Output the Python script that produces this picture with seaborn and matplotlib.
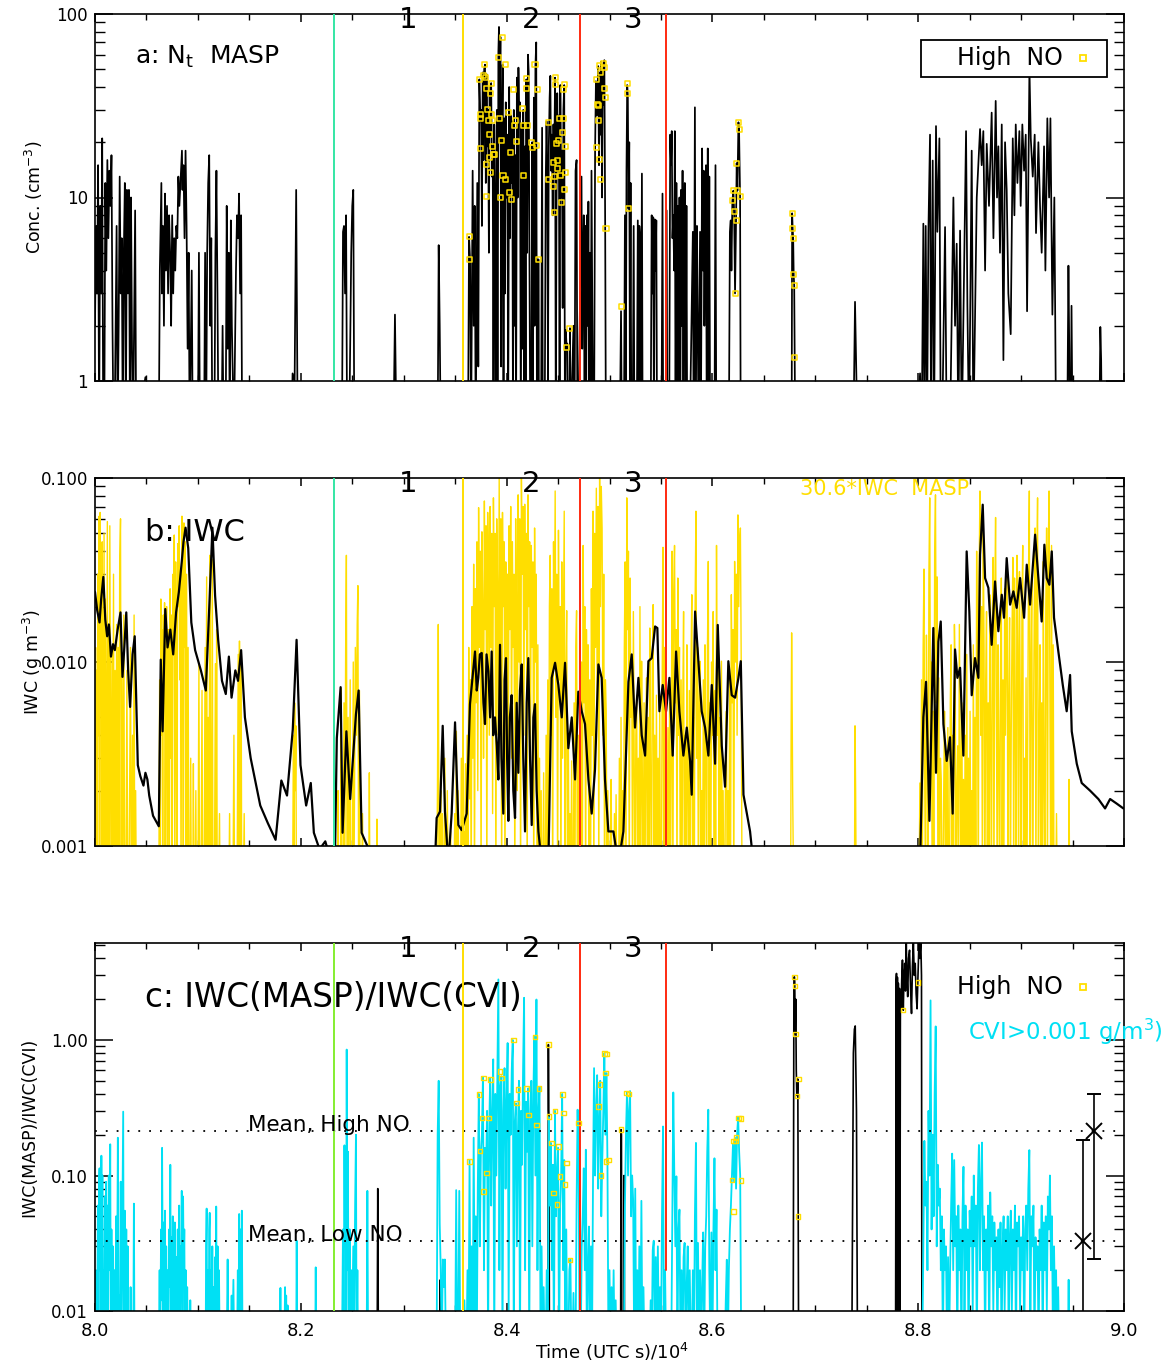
import numpy as np
import pandas as pd
import matplotlib
matplotlib.use("Agg")
import matplotlib.pyplot as plt
import matplotlib.transforms as mtransforms
from matplotlib.ticker import MultipleLocator, LogLocator, NullFormatter, FuncFormatter, FixedLocator
import seaborn as sns

# ------------------------------------------------------------------ data
# time axis in (UTC s)/1e4
REGION_LINES = [8.232, 8.358, 8.4713, 8.555]
REGION_LABELS = ["1", "2", "3"]
REGION_LABEL_T = [8.304, 8.424, 8.523]

# Panel a: N_t MASP (cm^-3); values below 1 fall off the axis
NT_MASP = [
    (8.000, 2.0), (8.001, 7), (8.002, 3), (8.003, 15), (8.004, 0.5), (8.005, 9), (8.006, 3), (8.007, 21),
    (8.008, 0.5), (8.009, 0.5), (8.010, 12), (8.011, 4), (8.012, 16), (8.013, 6), (8.014, 14), (8.015, 9),
    (8.016, 17), (8.017, 2), (8.018, 0.5), (8.019, 0.5), (8.021, 7), (8.022, 0.5), (8.023, 2), (8.024, 13),
    (8.025, 3), (8.026, 6), (8.027, 0.5), (8.028, 5), (8.029, 12), (8.030, 0.5), (8.031, 11), (8.032, 3),
    (8.033, 11), (8.034, 0.5), (8.035, 10), (8.036, 1.5), (8.037, 0.5), (8.039, 8.5), (8.040, 0.5), (8.049, 1.05),
    (8.050, 0.5),
    (8.062, 0.5), (8.063, 4), (8.0645, 12), (8.065, 3), (8.066, 7), (8.067, 2), (8.068, 10.5), (8.069, 4),
    (8.070, 9), (8.071, 3), (8.072, 8), (8.073, 5), (8.074, 2), (8.075, 8), (8.076, 3), (8.077, 6),
    (8.078, 4), (8.079, 7), (8.080, 6), (8.081, 13), (8.082, 9), (8.0845, 18), (8.085, 11), (8.086, 15),
    (8.087, 6), (8.088, 18), (8.089, 7), (8.090, 1.5), (8.091, 5), (8.092, 0.5), (8.094, 4), (8.095, 0.5),
    (8.100, 0.5), (8.101, 5), (8.102, 0.5),
    (8.106, 0.5), (8.107, 5), (8.108, 0.5), (8.109, 5), (8.110, 12), (8.111, 17), (8.112, 2), (8.113, 6),
    (8.114, 0.5), (8.116, 0.5), (8.117, 5), (8.118, 14), (8.119, 3), (8.120, 0.5), (8.123, 0.5), (8.124, 2),
    (8.125, 0.5), (8.127, 0.5), (8.128, 9), (8.129, 1.5), (8.130, 5), (8.131, 0.5), (8.132, 7.5), (8.133, 2),
    (8.135, 0.5), (8.137, 4), (8.138, 8), (8.139, 6), (8.140, 10.5), (8.141, 3), (8.142, 8), (8.143, 0.5),
    (8.191, 0.5), (8.192, 1.1), (8.194, 1.0), (8.1955, 11), (8.196, 4), (8.197, 0.5),
    (8.240, 0.5), (8.241, 6.5), (8.242, 7), (8.243, 3), (8.244, 8), (8.245, 0.5), (8.247, 0.5), (8.249, 5),
    (8.250, 9), (8.251, 11), (8.252, 0.5), (8.254, 0.5),
    (8.290, 0.5), (8.2915, 2.3), (8.293, 0.5),
    (8.333, 0.5), (8.334, 5.5), (8.335, 2), (8.336, 0.5),
    (8.3625, 0.5), (8.3635, 6.1), (8.3645, 4.6), (8.3655, 0.5), (8.3670, 14), (8.3680, 2), (8.3690, 9), (8.3700, 0.5),
    (8.3715, 12), (8.3725, 1.2), (8.3735, 44), (8.3745, 26), (8.3752, 30), (8.3760, 7), (8.3768, 48), (8.3775, 16),
    (8.3782, 50), (8.3790, 53), (8.3798, 12), (8.3805, 47), (8.3812, 19), (8.3820, 30), (8.3828, 5), (8.3835, 40),
    (8.3842, 22), (8.3850, 42), (8.3858, 13), (8.3865, 19), (8.3872, 0.5), (8.3880, 25), (8.3888, 9), (8.3895, 0.5),
    (8.3905, 30), (8.3912, 0.5), (8.3920, 62), (8.3926, 85), (8.3932, 20), (8.3940, 75), (8.3947, 1.2), (8.3955, 20),
    (8.3962, 53), (8.3970, 0.5), (8.3978, 27), (8.3985, 3), (8.3992, 33), (8.4000, 10), (8.4008, 22), (8.4015, 0.5),
    (8.4025, 40), (8.4032, 6), (8.4040, 28), (8.4048, 12), (8.4055, 26), (8.4062, 0.5), (8.4070, 30), (8.4078, 2),
    (8.4085, 17), (8.4092, 0.5), (8.4100, 45), (8.4108, 10), (8.4115, 51), (8.4122, 27), (8.4130, 33), (8.4138, 0.5),
    (8.4148, 25), (8.4155, 1.5), (8.4162, 30), (8.4170, 0.5), (8.4178, 19), (8.4185, 0.5), (8.4192, 44), (8.4200, 5),
    (8.4208, 60), (8.4215, 48), (8.4222, 4.5), (8.4230, 0.5), (8.4240, 0.5), (8.4248, 20), (8.4255, 0.5), (8.4265, 35),
    (8.4272, 2), (8.4280, 52), (8.4288, 70), (8.4295, 0.5), (8.4305, 0.5), (8.4309, 4.6), (8.4315, 0.5), (8.4335, 0.5),
    (8.4345, 24), (8.4352, 0.5), (8.4370, 0.5), (8.4380, 12), (8.4388, 26), (8.4395, 14), (8.4402, 1), (8.4410, 19),
    (8.4418, 35), (8.4425, 46), (8.4432, 14), (8.4440, 22), (8.4448, 8), (8.4455, 25), (8.4462, 14), (8.4471, 45),
    (8.4478, 0.5), (8.4485, 9), (8.4492, 37), (8.4500, 14), (8.4508, 28), (8.4515, 0.5), (8.4522, 41), (8.4530, 10),
    (8.4538, 18), (8.4545, 2.5), (8.4552, 30), (8.4560, 41), (8.4567, 0.5), (8.4575, 1.9), (8.4584, 1.5), (8.4590, 1.6),
    (8.4597, 0.5), (8.4610, 0.5), (8.4616, 1.94), (8.4622, 0.5), (8.4650, 2), (8.4660, 0.5), (8.4670, 14), (8.4680, 16),
    (8.4688, 0.5), (8.4697, 0.5),
    (8.4720, 6), (8.4728, 13), (8.4735, 1.5), (8.4742, 4), (8.4750, 8), (8.4758, 0.5), (8.4765, 7), (8.4772, 0.5),
    (8.4780, 8), (8.4788, 2), (8.4795, 9.5), (8.4802, 0.5), (8.4810, 5), (8.4818, 0.5), (8.4825, 14), (8.4832, 3),
    (8.4840, 0.5), (8.4850, 0.5), (8.4860, 18), (8.4868, 43), (8.4875, 28), (8.4882, 32), (8.4890, 52), (8.4898, 15),
    (8.4905, 48), (8.4912, 22), (8.4920, 55), (8.4928, 10), (8.4935, 53), (8.4942, 32), (8.4950, 56), (8.4958, 7),
    (8.4965, 0.5), (8.4975, 0.5), (8.5100, 0.5), (8.5112, 2.4), (8.5120, 0.5), (8.5140, 0.5), (8.5150, 8), (8.5158, 0.5),
    (8.5165, 14), (8.5172, 41), (8.5178, 36), (8.5185, 8.7), (8.5192, 20), (8.5198, 1), (8.5205, 12), (8.5212, 0.5),
    (8.5225, 0.5), (8.5235, 7), (8.5242, 0.5), (8.5265, 0.5), (8.5275, 7.5), (8.5282, 0.5), (8.5290, 7), (8.5298, 6),
    (8.5305, 0.5), (8.5315, 13.5), (8.5322, 0.5), (8.5335, 0.5), (8.5400, 0.5), (8.5410, 8), (8.5418, 3), (8.5425, 7.8),
    (8.5432, 0.5), (8.5440, 7.6), (8.5448, 4), (8.5455, 7.5), (8.5462, 0.5), (8.5470, 0.5), (8.5505, 0.5), (8.5515, 10.5),
    (8.5522, 0.5), (8.5545, 0.5), (8.5555, 8.5), (8.5562, 0.5), (8.5580, 0.5), (8.5590, 22), (8.5598, 15), (8.5605, 23),
    (8.5612, 6), (8.5620, 8), (8.5628, 4), (8.5635, 23), (8.5642, 0.5), (8.5650, 12), (8.5658, 1), (8.5665, 9),
    (8.5672, 0.5), (8.5680, 10), (8.5688, 0.5), (8.5695, 11), (8.5702, 2), (8.5710, 14), (8.5718, 0.5), (8.5725, 7),
    (8.5732, 12), (8.5740, 0.5), (8.5748, 9), (8.5755, 0.5), (8.5780, 0.5), (8.5810, 6.5), (8.5818, 0.5), (8.5830, 31),
    (8.5838, 0.5), (8.5850, 7), (8.5858, 2), (8.5865, 0.5), (8.5880, 6.5), (8.5888, 0.5), (8.5900, 18.5), (8.5908, 4),
    (8.5915, 14), (8.5922, 2), (8.5930, 7.4), (8.5938, 15), (8.5945, 0.5), (8.5955, 18.5), (8.5962, 1), (8.5970, 13),
    (8.5978, 0.5), (8.6020, 0.5), (8.6030, 15), (8.6038, 0.5), (8.6160, 0.5), (8.6170, 6.5), (8.6178, 7.5), (8.6185, 4),
    (8.6194, 9.6), (8.6204, 10.9), (8.6211, 8.4), (8.6220, 3.0), (8.6230, 7.5), (8.6236, 15.4), (8.6243, 10.9),
    (8.6253, 25.7), (8.6259, 23.6), (8.6269, 10.1), (8.6275, 0.5), (8.6290, 0.5),
    (8.6770, 0.5), (8.6775, 8.2), (8.6780, 6.8), (8.6785, 6.0), (8.6790, 3.8), (8.6795, 3.3), (8.6800, 1.35), (8.6805, 0.5),
    (8.7370, 0.5), (8.7386, 2.7), (8.7400, 1.0), (8.7405, 0.5),
    (8.7985, 0.5), (8.8018, 1.1), (8.8034, 0.5), (8.8050, 7.2), (8.8060, 0.5), (8.8073, 7), (8.8086, 0.5), (8.8099, 6.5),
    (8.8115, 22), (8.8125, 0.5), (8.8141, 15.9), (8.8154, 0.5), (8.8173, 24.5), (8.8186, 6.5), (8.8206, 21), (8.8219, 0.5),
    (8.8232, 0.5), (8.8261, 6.9), (8.8277, 0.5), (8.8309, 0.5), (8.8342, 10), (8.8358, 2), (8.8374, 5.6), (8.8390, 0.5),
    (8.8407, 6.6), (8.8423, 0.5), (8.8465, 23), (8.8478, 2.6), (8.8494, 0.5), (8.8520, 18), (8.8536, 0.5), (8.8569, 10),
    (8.8601, 23.6), (8.8617, 15), (8.8633, 23), (8.8650, 4), (8.8666, 19.6), (8.8688, 9), (8.8714, 29), (8.8731, 6),
    (8.8753, 33.6), (8.8766, 10), (8.8779, 19), (8.8795, 5), (8.8812, 25), (8.8828, 1.3), (8.8844, 20), (8.8860, 11),
    (8.8876, 3), (8.8899, 1.8), (8.8919, 21), (8.8935, 8), (8.8948, 25), (8.8964, 12), (8.8983, 23), (8.8996, 9),
    (8.9012, 25), (8.9029, 14), (8.9045, 22), (8.9058, 2.4), (8.9081, 51), (8.9094, 21), (8.9113, 13), (8.9132, 22),
    (8.9145, 6.4), (8.9168, 20), (8.9184, 9), (8.9200, 5), (8.9223, 19), (8.9236, 4), (8.9255, 27), (8.9272, 10),
    (8.9285, 27), (8.9304, 2.3), (8.9323, 10), (8.9340, 0.5),
    (8.9448, 0.5), (8.9460, 4.25), (8.9468, 1.5), (8.9472, 0.5), (8.9482, 0.5), (8.9490, 2.57), (8.9500, 0.5),
    (8.9760, 0.5), (8.9770, 1.97), (8.9778, 1.3), (8.9785, 0.5),
]

HIGH_NO_A = [
    (8.3638, 6.1), (8.3644, 4.6), (8.3735, 43.7), (8.3742, 28.5), (8.3748, 26.8), (8.3751, 18.4), (8.3774, 46.1),
    (8.3790, 52.9), (8.3797, 45.2), (8.3800, 39.5), (8.3803, 10.1), (8.3806, 15.2), (8.3816, 30.0), (8.3823, 26.4),
    (8.3829, 22.0), (8.3832, 16.6), (8.3839, 13.7), (8.3842, 37.0), (8.3849, 41.6), (8.3855, 28.5), (8.3862, 26.2),
    (8.3865, 18.9), (8.3871, 17.1), (8.3887, 17.1), (8.3926, 58.1), (8.3933, 26.8), (8.3936, 10.0), (8.3952, 20.4),
    (8.3959, 74.6), (8.3965, 13.2), (8.3991, 52.9), (8.3994, 12.5), (8.4017, 29.1), (8.4027, 10.7), (8.4040, 17.6),
    (8.4049, 9.8), (8.4066, 39.0), (8.4075, 24.6), (8.4088, 26.2), (8.4092, 20.2), (8.4156, 30.6), (8.4163, 13.2),
    (8.4169, 24.6), (8.4189, 44.3), (8.4195, 39.5), (8.4202, 24.6), (8.4244, 20.0), (8.4250, 18.8), (8.4276, 52.9),
    (8.4286, 19.2), (8.4299, 38.6), (8.4309, 4.6), (8.4409, 25.7), (8.4409, 12.6), (8.4454, 15.6), (8.4458, 11.5),
    (8.4461, 13.0), (8.4464, 8.3), (8.4471, 45.2), (8.4480, 41.2), (8.4487, 19.7), (8.4490, 14.3), (8.4496, 15.9),
    (8.4503, 20.4), (8.4513, 26.8), (8.4519, 13.2), (8.4529, 9.4), (8.4545, 22.6), (8.4552, 26.8), (8.4555, 38.6),
    (8.4558, 41.2), (8.4561, 11.1), (8.4568, 18.9), (8.4571, 13.7), (8.4584, 1.52), (8.4616, 1.94), (8.4869, 43.7),
    (8.4876, 18.8), (8.4882, 32.0), (8.4889, 31.6), (8.4895, 26.4), (8.4902, 16.2), (8.4905, 52.3), (8.4908, 48.1),
    (8.4915, 12.5), (8.4940, 53.8), (8.4947, 51.2), (8.4953, 39.5), (8.4957, 34.9), (8.4966, 6.8), (8.5112, 2.54),
    (8.5174, 41.6), (8.5177, 36.7), (8.5184, 8.7), (8.6194, 9.6), (8.6204, 10.9), (8.6211, 8.4), (8.6220, 3.0),
    (8.6230, 7.5), (8.6236, 15.4), (8.6243, 10.9), (8.6253, 25.7), (8.6259, 23.6), (8.6269, 10.1), (8.6775, 8.2),
    (8.6780, 6.8), (8.6785, 6.0), (8.6790, 3.8), (8.6795, 3.3), (8.6800, 1.35),
]

# Panel b: 30.6*IWC MASP (g m^-3), yellow
IWC_MASP_PAIRS = [
    (8.0000, 0.004), (8.0006, 0.012), (8.0010, 0.0005), (8.0015, 0.006), (8.0020, 0.009), (8.0025, 0.0005),
    (8.0030, 0.03), (8.0035, 0.004), (8.0040, 0.062), (8.0045, 0.0005), (8.0050, 0.065), (8.0055, 0.008),
    (8.0060, 0.02), (8.0065, 0.0005), (8.0070, 0.045), (8.0075, 0.003), (8.0080, 0.0005), (8.0088, 0.05),
    (8.0094, 0.0005), (8.0100, 0.022), (8.0106, 0.004), (8.0112, 0.0005), (8.0120, 0.058), (8.0126, 0.0005),
    (8.0132, 0.015), (8.0138, 0.0005), (8.0144, 0.055), (8.0150, 0.006), (8.0156, 0.0005), (8.0165, 0.012),
    (8.0172, 0.0005), (8.0180, 0.03), (8.0186, 0.0005), (8.0195, 0.009), (8.0202, 0.0005), (8.0210, 0.016),
    (8.0216, 0.0005), (8.0225, 0.012), (8.0232, 0.0005), (8.0240, 0.035), (8.0248, 0.060), (8.0255, 0.0005),
    (8.0262, 0.01), (8.0270, 0.0005), (8.0280, 0.018), (8.0288, 0.0005), (8.0300, 0.0005), (8.0310, 0.009),
    (8.0318, 0.0005), (8.0330, 0.0005), (8.0345, 0.012), (8.0352, 0.0005), (8.0365, 0.004), (8.0372, 0.0005),
    (8.0380, 0.018), (8.0386, 0.0005), (8.0395, 0.002), (8.0402, 0.0005), (8.0420, 0.0005),
    (8.0620, 0.0005), (8.0628, 0.008), (8.0634, 0.0005), (8.0640, 0.022), (8.0646, 0.004), (8.0652, 0.015),
    (8.0658, 0.0005), (8.0664, 0.018), (8.0670, 0.006), (8.0676, 0.021), (8.0682, 0.0005), (8.0690, 0.012),
    (8.0696, 0.02), (8.0702, 0.0005), (8.0710, 0.015), (8.0716, 0.008), (8.0722, 0.0005), (8.0730, 0.025),
    (8.0736, 0.003), (8.0744, 0.018), (8.0750, 0.0005), (8.0758, 0.03), (8.0764, 0.012), (8.0770, 0.049),
    (8.0776, 0.0005), (8.0784, 0.035), (8.0790, 0.01), (8.0796, 0.0005), (8.0804, 0.044), (8.0810, 0.02),
    (8.0818, 0.055), (8.0824, 0.008), (8.0830, 0.03), (8.0836, 0.0005), (8.0845, 0.062), (8.0852, 0.04),
    (8.0858, 0.0005), (8.0864, 0.057), (8.0870, 0.012), (8.0876, 0.045), (8.0882, 0.0005), (8.0890, 0.03),
    (8.0896, 0.0005), (8.0905, 0.012), (8.0912, 0.0005), (8.0922, 0.0005), (8.0930, 0.003), (8.0936, 0.0005),
    (8.0950, 0.0005), (8.0956, 0.0028), (8.0962, 0.0005), (8.0972, 0.0005), (8.0980, 0.002), (8.0986, 0.0005),
    (8.1000, 0.0005), (8.1010, 0.0098), (8.1016, 0.0005), (8.1030, 0.0005), (8.1040, 0.007), (8.1046, 0.0005),
    (8.1060, 0.0005), (8.1070, 0.012), (8.1076, 0.0005), (8.1085, 0.029), (8.1092, 0.0005), (8.1100, 0.005),
    (8.1108, 0.0005), (8.1115, 0.038), (8.1122, 0.003), (8.1130, 0.0005), (8.1140, 0.036), (8.1146, 0.0005),
    (8.1160, 0.0005), (8.1170, 0.0098), (8.1176, 0.0005), (8.1182, 0.015), (8.1188, 0.0005), (8.1200, 0.0005),
    (8.1210, 0.0015), (8.1216, 0.0005), (8.1300, 0.0005), (8.1308, 0.0015), (8.1314, 0.0005), (8.1340, 0.0005),
    (8.1350, 0.004), (8.1356, 0.0005), (8.1380, 0.0005), (8.1392, 0.011), (8.1398, 0.0005), (8.1404, 0.013),
    (8.1410, 0.0005), (8.1420, 0.011), (8.1426, 0.0005), (8.1440, 0.0005), (8.1450, 0.0015), (8.1456, 0.0005),
    (8.1920, 0.0005), (8.1928, 0.004), (8.1934, 0.0005), (8.1940, 0.006), (8.1946, 0.002), (8.1952, 0.0045),
    (8.1958, 0.0005),
    (8.2355, 0.0005), (8.2362, 0.002), (8.2368, 0.0005), (8.2385, 0.0005), (8.2392, 0.0072), (8.2398, 0.0005),
    (8.2410, 0.0005), (8.2420, 0.006), (8.2426, 0.0005), (8.2436, 0.012), (8.2443, 0.038), (8.2450, 0.0005),
    (8.2460, 0.005), (8.2466, 0.0005), (8.2480, 0.008), (8.2486, 0.0005), (8.2500, 0.0005), (8.2510, 0.01),
    (8.2516, 0.0005), (8.2530, 0.012), (8.2540, 0.004), (8.2548, 0.016), (8.2555, 0.026), (8.2562, 0.0005),
    (8.2570, 0.007), (8.2576, 0.0005), (8.2590, 0.0005), (8.2600, 0.0015), (8.2606, 0.0005), (8.2660, 0.0005),
    (8.2666, 0.0025), (8.2672, 0.0005), (8.2735, 0.0005), (8.2740, 0.0014), (8.2746, 0.0005),
    (8.6760, 0.0005), (8.6765, 0.004), (8.6770, 0.0144), (8.6775, 0.006), (8.6780, 0.002), (8.6790, 0.0005),
    (8.7380, 0.0005), (8.7386, 0.0045), (8.7392, 0.002), (8.7398, 0.0005),
    (8.9460, 0.0005), (8.9466, 0.0023), (8.9472, 0.0005),
]
# regularly sampled stretches: (start time, step, values)
IWC_MASP_SEG_A = (8.332, 0.0008, [
    0.0005, 0.002, 0.016, 0.0005, 0.0012, 0.002, 0.0005, 0.0015, 0.0005, 0.0005, 0.003, 0.0005, 0.0005, 0.002,
    0.0005, 0.0005, 0.0005, 0.0012, 0.0005, 0.0005, 0.0005, 0.0005, 0.0015, 0.0005, 0.0042, 0.0005, 0.002, 0.0005,
    0.0005, 0.0005, 0.003, 0.0005, 0.0005, 0.0012, 0.0005, 0.0028,
    0.0005, 0.004, 0.0005, 0.012, 0.0018, 0.008, 0.0005, 0.02, 0.003,
    0.034, 0.0005, 0.025, 0.006, 0.045, 0.002, 0.069, 0.012, 0.04, 0.0005, 0.051, 0.02, 0.003, 0.075, 0.015, 0.055,
    0.0005, 0.065, 0.03, 0.004, 0.07, 0.012, 0.05, 0.0015, 0.078, 0.02, 0.05, 0.0005, 0.06, 0.025, 0.004, 0.1, 0.01,
    0.06, 0.0005, 0.065, 0.02, 0.045, 0.0005, 0.035, 0.008, 0.03, 0.0015, 0.055, 0.015, 0.07, 0.003, 0.045, 0.012,
    0.03, 0.0005, 0.06, 0.02, 0.002, 0.081, 0.01, 0.06, 0.0005, 0.1,
    0.03, 0.07, 0.004, 0.072, 0.015, 0.05, 0.0005, 0.081, 0.02, 0.045, 0.003, 0.043, 0.012, 0.035, 0.0005, 0.0535,
    0.01, 0.03, 0.0005, 0.0124, 0.0005, 0.003, 0.0005, 0.002, 0.0005, 0.0005, 0.0025, 0.0005, 0.0005, 0.004, 0.0005,
    0.008, 0.0005, 0.02, 0.038, 0.004, 0.025, 0.0005, 0.045, 0.01, 0.085, 0.005, 0.03, 0.0005, 0.052, 0.008, 0.02,
    0.0005, 0.035, 0.003, 0.015, 0.066, 0.0005, 0.008, 0.019, 0.0005, 0.004, 0.0005, 0.0015, 0.0005, 0.0029, 0.0005,
    0.0005, 0.006, 0.0005, 0.012, 0.019, 0.0005, 0.004, 0.0005, 0.006])
IWC_MASP_SEG_B = (8.472, 0.0008, [
    0.0005, 0.01, 0.0005, 0.043, 0.006, 0.02, 0.0005, 0.015, 0.003, 0.0124, 0.0005, 0.008, 0.0005, 0.025, 0.004,
    0.066, 0.0005, 0.05, 0.012, 0.088, 0.006, 0.07, 0.0005, 0.1, 0.02, 0.09, 0.0535, 0.004, 0.03, 0.0005, 0.008,
    0.0054, 0.0005, 0.002, 0.0005, 0.0005, 0.0012, 0.0023, 0.0005, 0.0005, 0.0005, 0.0015, 0.0005, 0.0019, 0.0005,
    0.0005, 0.0005, 0.003, 0.0005, 0.005, 0.0005, 0.002, 0.0005, 0.012, 0.035, 0.0005, 0.078, 0.015, 0.04, 0.0005,
    0.0286, 0.005, 0.01, 0.0005, 0.0188, 0.003, 0.0005, 0.004, 0.0066, 0.0005, 0.003, 0.0005, 0.02, 0.0005, 0.0101,
    0.002, 0.0005, 0.006, 0.0005, 0.003, 0.0082, 0.0005, 0.005, 0.0005, 0.0153, 0.002, 0.0005, 0.01, 0.0205, 0.0005,
    0.004, 0.0005, 0.0066, 0.0005, 0.003, 0.0005, 0.0054, 0.0005, 0.0005, 0.008, 0.042, 0.0005, 0.012, 0.0005, 0.002,
    0.0005, 0.0044, 0.0005, 0.006, 0.0005, 0.003, 0.04, 0.0005, 0.024, 0.043, 0.006, 0.015, 0.0005, 0.0286, 0.004,
    0.012, 0.0005, 0.008, 0.0005, 0.006, 0.0188, 0.0005, 0.004, 0.0005, 0.0124, 0.002, 0.0005, 0.007, 0.0005, 0.01,
    0.0232, 0.0005, 0.005, 0.0005, 0.02, 0.066, 0.003, 0.012, 0.0005, 0.006, 0.0101, 0.0005, 0.002, 0.0005, 0.008,
    0.0005, 0.0124, 0.003, 0.0005, 0.012, 0.0352, 0.0005, 0.006, 0.0005, 0.01, 0.004, 0.0188, 0.0005, 0.007, 0.0005,
    0.043, 0.004, 0.015, 0.0005, 0.005, 0.0005, 0.0101, 0.0005, 0.002, 0.0005, 0.0005, 0.003, 0.0054, 0.0005, 0.002,
    0.0005, 0.008, 0.0005, 0.0232, 0.006, 0.015, 0.0005, 0.0352, 0.01, 0.03, 0.004, 0.063, 0.02, 0.045, 0.0535, 0.01,
    0.0005, 0.0005])
IWC_MASP_SEG_C = (8.800, 0.0008, [
    0.0005, 0.0005, 0.0022, 0.0005, 0.008, 0.0005, 0.012, 0.032, 0.002, 0.0005, 0.014, 0.004, 0.0005, 0.03, 0.078,
    0.003, 0.01, 0.0005, 0.0054, 0.0005, 0.04, 0.081, 0.006, 0.029, 0.0005, 0.0082, 0.0005, 0.003, 0.0023, 0.0005,
    0.0005, 0.002, 0.0054, 0.0005, 0.003, 0.0005, 0.0044, 0.0005, 0.0005, 0.006, 0.0124, 0.0005, 0.004, 0.0005,
    0.016, 0.008, 0.0005, 0.002, 0.0035, 0.0005, 0.016, 0.003, 0.0005, 0.006, 0.0005, 0.0023, 0.0005, 0.004, 0.0005,
    0.011, 0.0005, 0.003, 0.0005, 0.0054, 0.0005, 0.002, 0.0005, 0.0124, 0.0005, 0.005, 0.0005, 0.04, 0.01, 0.0005,
    0.03, 0.085, 0.004, 0.02, 0.0005, 0.051, 0.012, 0.0005, 0.008, 0.0188, 0.0005, 0.006, 0.0005, 0.0232, 0.004,
    0.0005, 0.015, 0.037, 0.0005, 0.02, 0.061, 0.006, 0.0005, 0.0124, 0.003, 0.0005, 0.01, 0.0286, 0.0005, 0.008,
    0.0005, 0.025, 0.004, 0.012, 0.036, 0.0005, 0.006, 0.0174, 0.0005, 0.004, 0.015, 0.037, 0.0005, 0.0286, 0.005,
    0.0005, 0.038, 0.012, 0.0005, 0.031, 0.006, 0.0005, 0.02, 0.043, 0.0005, 0.003, 0.0005, 0.0082, 0.0005, 0.004,
    0.03, 0.085, 0.0005, 0.01, 0.0286, 0.0005, 0.004, 0.02, 0.0535, 0.0005, 0.03, 0.078, 0.0005, 0.004, 0.0124,
    0.0005, 0.006, 0.0005, 0.0352, 0.002, 0.0005, 0.02, 0.0535, 0.0005, 0.04, 0.085, 0.006, 0.0005, 0.043, 0.0005,
    0.0124, 0.0005, 0.0005, 0.0005, 0.0015, 0.0005])

# Panel b: IWC CVI (g m^-3), black
IWC_CVI = [
    (8.0000, 0.024), (8.0022, 0.019), (8.0044, 0.0164), (8.0060, 0.022), (8.0081, 0.029), (8.0100, 0.017),
    (8.0118, 0.0138), (8.0135, 0.016), (8.0155, 0.0107), (8.0175, 0.0125), (8.0193, 0.0116), (8.0220, 0.015),
    (8.0248, 0.0186), (8.0267, 0.0083), (8.0285, 0.012), (8.0304, 0.0186), (8.0322, 0.009), (8.0341, 0.0057),
    (8.0365, 0.011), (8.0386, 0.0138), (8.0416, 0.00275), (8.0440, 0.0024), (8.0471, 0.00213), (8.0490, 0.0025),
    (8.0509, 0.0023), (8.0527, 0.00188), (8.0564, 0.00146), (8.0620, 0.00128), (8.0639, 0.0103),
    (8.0657, 0.0042), (8.0683, 0.0194), (8.0705, 0.012), (8.0732, 0.015), (8.0760, 0.011), (8.0788, 0.0186),
    (8.0815, 0.024), (8.0843, 0.035), (8.0860, 0.045), (8.0880, 0.0537),
    (8.0906, 0.0416), (8.0936, 0.0164), (8.0973, 0.0116), (8.1029, 0.009), (8.1077, 0.007), (8.1115, 0.023),
    (8.1141, 0.0537), (8.1167, 0.023), (8.1197, 0.0132), (8.1234, 0.0079), (8.1271, 0.0067), (8.1301, 0.0107),
    (8.1327, 0.0064), (8.1364, 0.009), (8.1390, 0.0079), (8.1420, 0.0116), (8.1457, 0.005), (8.1513, 0.003),
    (8.1606, 0.00166), (8.1680, 0.00133), (8.1755, 0.00108), (8.1811, 0.00227), (8.1866, 0.00188), (8.1922, 0.0043),
    (8.1959, 0.0132), (8.1997, 0.00275), (8.2052, 0.00166), (8.2097, 0.0022), (8.2127, 0.00118), (8.2182, 0.00096),
    (8.2238, 0.00106), (8.2275, 0.0009), (8.2331, 0.0008), (8.2350, 0.00386), (8.2387, 0.0073), (8.2406, 0.00118),
    (8.2443, 0.0042), (8.2480, 0.0018), (8.2536, 0.0052), (8.2562, 0.007), (8.2591, 0.00118), (8.2647, 0.001),
    (8.2666, 0.0008), (8.3304, 0.0008),
    (8.3320, 0.00142), (8.3353, 0.00154), (8.3379, 0.0045), (8.3401, 0.00154), (8.3434, 0.0008), (8.3466, 0.0015),
    (8.3499, 0.0047), (8.3531, 0.0013), (8.3563, 0.00122), (8.3612, 0.0015), (8.3644, 0.0059), (8.3693, 0.0114),
    (8.3710, 0.007), (8.3725, 0.0082), (8.3740, 0.011), (8.3758, 0.0112), (8.3775, 0.006), (8.3790, 0.0046),
    (8.3805, 0.011), (8.3823, 0.0089), (8.3840, 0.005), (8.3855, 0.0114), (8.3870, 0.004), (8.3887, 0.005),
    (8.3905, 0.0035), (8.3920, 0.0023), (8.3936, 0.0124), (8.3950, 0.003), (8.3968, 0.0015), (8.3980, 0.008),
    (8.3994, 0.0105), (8.4005, 0.003), (8.4017, 0.00137), (8.4032, 0.005), (8.4049, 0.0066), (8.4065, 0.002),
    (8.4082, 0.00142), (8.4098, 0.006), (8.4114, 0.0025), (8.4130, 0.007), (8.4147, 0.0097), (8.4162, 0.003),
    (8.4179, 0.0012), (8.4195, 0.006), (8.4211, 0.0105), (8.4228, 0.003), (8.4244, 0.0013), (8.4260, 0.005),
    (8.4276, 0.0059), (8.4292, 0.002), (8.4309, 0.0012), (8.4342, 0.0008), (8.4406, 0.0008), (8.4438, 0.0082), (8.4471, 0.0099),
    (8.4503, 0.0075), (8.4536, 0.005), (8.4568, 0.0099), (8.4600, 0.0034), (8.4633, 0.005), (8.4665, 0.0023),
    (8.4697, 0.0069), (8.4730, 0.0054), (8.4762, 0.0046), (8.4795, 0.0023), (8.4827, 0.0015), (8.4859, 0.0026),
    (8.4892, 0.0097), (8.4924, 0.0082), (8.4956, 0.0023), (8.4989, 0.0012), (8.5038, 0.0012), (8.5086, 0.0008),
    (8.5135, 0.0012), (8.5184, 0.0078), (8.5216, 0.011), (8.5248, 0.0044), (8.5281, 0.0082), (8.5313, 0.004),
    (8.5346, 0.0031), (8.5378, 0.0101), (8.5410, 0.0105), (8.5443, 0.0156), (8.5465, 0.0153), (8.5485, 0.0054),
    (8.5517, 0.0075), (8.5550, 0.0054), (8.5582, 0.0082), (8.5614, 0.0031), (8.5647, 0.0114), (8.5679, 0.0054),
    (8.5718, 0.0031), (8.5751, 0.0044), (8.5783, 0.0029), (8.5799, 0.0019), (8.5832, 0.0188), (8.5864, 0.0101),
    (8.5896, 0.0054), (8.5929, 0.0044), (8.5961, 0.0031), (8.5994, 0.0075), (8.6026, 0.0028), (8.6052, 0.0159),
    (8.6091, 0.0035), (8.6123, 0.0021), (8.6155, 0.0101), (8.6188, 0.0066), (8.6221, 0.0064), (8.6253, 0.0082),
    (8.6276, 0.0101), (8.6302, 0.0019), (8.6366, 0.0012), (8.6399, 0.0008), (8.7992, 0.0008),
    (8.8018, 0.0008), (8.8050, 0.005), (8.8076, 0.0078), (8.8109, 0.00137), (8.8147, 0.0153), (8.8173, 0.0025),
    (8.8196, 0.0129), (8.8219, 0.0166), (8.8245, 0.0046), (8.8277, 0.0029), (8.8309, 0.0039), (8.8335, 0.0015),
    (8.8358, 0.0117), (8.8381, 0.0082), (8.8407, 0.0093), (8.8439, 0.0031), (8.8471, 0.0399), (8.8497, 0.0188),
    (8.8520, 0.0066), (8.8552, 0.0105), (8.8585, 0.0082), (8.8601, 0.0383), (8.8627, 0.0716), (8.8650, 0.0286),
    (8.8682, 0.0253), (8.8714, 0.0124), (8.8747, 0.0274), (8.8779, 0.0147), (8.8812, 0.0232), (8.8834, 0.0174),
    (8.8860, 0.0367), (8.8893, 0.0205), (8.8925, 0.0242), (8.8957, 0.0197), (8.8990, 0.0286), (8.9029, 0.0174),
    (8.9055, 0.0338), (8.9087, 0.0205), (8.9119, 0.0367), (8.9136, 0.0492), (8.9168, 0.0286), (8.9200, 0.0166),
    (8.9226, 0.0434), (8.9249, 0.0286), (8.9275, 0.0263), (8.9298, 0.0399), (8.9320, 0.0174), (8.9362, 0.0114),
    (8.9405, 0.0075), (8.9443, 0.0054), (8.9476, 0.0085), (8.9492, 0.0042), (8.9541, 0.0028), (8.9589, 0.0022),
    (8.9670, 0.002), (8.9751, 0.0018), (8.9816, 0.0016), (8.9865, 0.0018), (8.9929, 0.0017), (8.9994, 0.0016),
]

# Panel c: IWC(MASP)/IWC(CVI), cyan where CVI > 0.001 g/m3
RATIO_CVI_PAIRS = [
    (8.0000, 0.005), (8.0004, 0.02), (8.0008, 0.005), (8.0014, 0.018), (8.0020, 0.005), (8.0028, 0.06),
    (8.0034, 0.005), (8.0040, 0.09), (8.0044, 0.113), (8.0048, 0.02), (8.0054, 0.08), (8.0058, 0.005),
    (8.0062, 0.14), (8.0066, 0.03), (8.0072, 0.1), (8.0078, 0.005), (8.0084, 0.02), (8.0090, 0.005),
    (8.0096, 0.07), (8.0102, 0.01), (8.0108, 0.09), (8.0114, 0.005), (8.0120, 0.06), (8.0126, 0.005),
    (8.0134, 0.1), (8.0140, 0.02), (8.0148, 0.17), (8.0154, 0.005), (8.0160, 0.04), (8.0166, 0.005),
    (8.0174, 0.03), (8.0180, 0.005), (8.0190, 0.02), (8.0196, 0.005), (8.0205, 0.05), (8.0212, 0.005),
    (8.0222, 0.19), (8.0228, 0.005), (8.0236, 0.013), (8.0242, 0.005), (8.0250, 0.09), (8.0256, 0.005),
    (8.0266, 0.05), (8.0274, 0.296), (8.0280, 0.005), (8.0290, 0.055), (8.0296, 0.005), (8.0304, 0.04),
    (8.0310, 0.005), (8.0318, 0.03), (8.0324, 0.005), (8.0340, 0.005), (8.0346, 0.015), (8.0352, 0.005),
    (8.0372, 0.005), (8.0378, 0.062), (8.0384, 0.005),
    (8.0620, 0.005), (8.0628, 0.02), (8.0634, 0.005), (8.0642, 0.04), (8.0648, 0.012), (8.0652, 0.16),
    (8.0657, 0.03), (8.0662, 0.005), (8.0668, 0.045), (8.0674, 0.01), (8.0680, 0.055), (8.0686, 0.005),
    (8.0692, 0.03), (8.0698, 0.005), (8.0706, 0.02), (8.0712, 0.005), (8.0720, 0.04), (8.0726, 0.015),
    (8.0732, 0.12), (8.0738, 0.005), (8.0744, 0.035), (8.0750, 0.01), (8.0756, 0.05), (8.0762, 0.005),
    (8.0770, 0.03), (8.0776, 0.045), (8.0782, 0.005), (8.0790, 0.025), (8.0796, 0.005), (8.0804, 0.04),
    (8.0810, 0.01), (8.0818, 0.06), (8.0824, 0.005), (8.0832, 0.03), (8.0838, 0.02), (8.0843, 0.077),
    (8.0850, 0.005), (8.0856, 0.07), (8.0862, 0.02), (8.0868, 0.04), (8.0874, 0.005), (8.0882, 0.02),
    (8.0888, 0.005), (8.0896, 0.015), (8.0902, 0.005), (8.0920, 0.005), (8.0926, 0.012), (8.0932, 0.005),
    (8.1075, 0.005), (8.1080, 0.03), (8.1085, 0.057), (8.1090, 0.005), (8.1098, 0.02), (8.1104, 0.005),
    (8.1110, 0.04), (8.1115, 0.053), (8.1120, 0.005), (8.1128, 0.02), (8.1134, 0.005), (8.1140, 0.03),
    (8.1146, 0.005), (8.1154, 0.015), (8.1160, 0.005), (8.1168, 0.025), (8.1174, 0.005), (8.1178, 0.059),
    (8.1184, 0.005), (8.1192, 0.03), (8.1198, 0.005), (8.1205, 0.02), (8.1212, 0.005), (8.1280, 0.005),
    (8.1289, 0.024), (8.1296, 0.005), (8.1320, 0.005), (8.1328, 0.013), (8.1334, 0.005), (8.1345, 0.017),
    (8.1352, 0.005), (8.1380, 0.005), (8.1388, 0.02), (8.1394, 0.005), (8.1401, 0.052), (8.1408, 0.01),
    (8.1414, 0.04), (8.1420, 0.005), (8.1427, 0.055), (8.1434, 0.005),
    (8.1795, 0.005), (8.1802, 0.0148), (8.1808, 0.005), (8.1840, 0.005), (8.1847, 0.015), (8.1852, 0.006),
    (8.1858, 0.013), (8.1864, 0.005), (8.1872, 0.011), (8.1878, 0.005), (8.1955, 0.005), (8.1960, 0.033),
    (8.1966, 0.005), (8.2140, 0.005), (8.2145, 0.021), (8.2150, 0.005),
    (8.2400, 0.005), (8.2410, 0.04), (8.2416, 0.005), (8.2424, 0.167), (8.2430, 0.03), (8.2436, 0.12),
    (8.2440, 0.005), (8.2446, 0.85), (8.2452, 0.02), (8.2458, 0.15), (8.2464, 0.005), (8.2475, 0.04),
    (8.2480, 0.005), (8.2490, 0.02), (8.2496, 0.005), (8.2510, 0.03), (8.2516, 0.005), (8.2528, 0.06),
    (8.2536, 0.2), (8.2542, 0.005), (8.2550, 0.02), (8.2556, 0.005), (8.2640, 0.005), (8.2647, 0.077),
    (8.2654, 0.005),
    (8.9455, 0.005), (8.9462, 0.017), (8.9468, 0.005),
]
RATIO_CVI_SEG_A = (8.332, 0.001, [
    0.005, 0.2, 0.5, 0.044, 0.02, 0.005, 0.024, 0.015, 0.024, 0.005, 0.005, 0.005, 0.005, 0.005, 0.005, 0.005,
    0.005, 0.005, 0.005, 0.078, 0.005, 0.005, 0.077, 0.005, 0.005, 0.005, 0.005, 0.012, 0.005, 0.005, 0.02, 0.005,
    0.13, 0.005, 0.03, 0.005, 0.19, 0.01, 0.05, 0.005, 0.08, 0.4, 0.03, 0.15, 0.2, 0.53, 0.02, 0.16, 0.1, 0.3,
    0.005, 0.2, 0.52, 0.06, 0.3, 0.72, 0.005, 0.4, 0.1, 0.5, 2.8, 0.02, 0.45, 0.54, 0.005, 0.3, 0.62, 0.08, 0.35,
    0.95, 0.01, 0.4, 0.2, 0.6, 1.0, 0.005, 0.25, 0.34, 0.03, 0.2, 0.5, 0.005, 0.3, 0.12, 0.6, 2.05, 0.02, 0.35,
    0.15, 0.44, 0.005, 0.28, 0.5, 0.03, 0.4, 1.07, 0.1, 1.99, 0.02, 0.3, 0.45, 0.005, 0.03, 0.005, 0.015, 0.005,
    0.005, 0.02, 0.005, 0.27, 0.06, 0.174, 0.02, 0.12, 0.005, 0.3, 0.05, 0.1, 0.16, 0.005, 0.06, 0.1, 0.4, 0.02,
    0.13, 0.005, 0.04, 0.005, 0.005, 0.02, 0.024, 0.005, 0.005, 0.0136, 0.005, 0.005, 0.06, 0.306, 0.1, 0.005])
RATIO_CVI_SEG_B = (8.472, 0.001, [
    0.005, 0.03, 0.05, 0.113, 0.02, 0.155, 0.005, 0.02, 0.042, 0.005, 0.03, 0.005, 0.1, 0.62, 0.1, 0.3, 0.55, 0.08,
    0.25, 0.5, 0.05, 0.131, 0.3, 0.8, 0.2, 0.57, 0.131, 0.005, 0.02, 0.005, 0.015, 0.005, 0.02, 0.005, 0.012, 0.005,
    0.005, 0.005, 0.005, 0.005, 0.005, 0.005, 0.005, 0.06, 0.2, 0.41, 0.1, 0.3, 0.42, 0.05, 0.1, 0.065, 0.005, 0.08,
    0.005, 0.02, 0.005, 0.03, 0.005, 0.065, 0.005, 0.015, 0.005, 0.005, 0.005, 0.005, 0.005, 0.005, 0.012, 0.005,
    0.028, 0.033, 0.005, 0.025, 0.005, 0.03, 0.005, 0.015, 0.005, 0.05, 0.23, 0.005, 0.02, 0.005, 0.005, 0.005,
    0.01, 0.005, 0.005, 0.05, 0.41, 0.1, 0.03, 0.0986, 0.005, 0.04, 0.056, 0.005, 0.02, 0.005, 0.025, 0.0318,
    0.005, 0.015, 0.03, 0.005, 0.02, 0.005, 0.005, 0.02, 0.005, 0.05, 0.174, 0.005, 0.0318, 0.005, 0.02, 0.005,
    0.015, 0.038, 0.005, 0.03, 0.05, 0.15, 0.306, 0.02, 0.005, 0.038, 0.005, 0.04, 0.134, 0.02, 0.056, 0.005,
    0.005, 0.005, 0.005, 0.005, 0.005, 0.005, 0.005, 0.012, 0.0239, 0.005, 0.02, 0.04, 0.06, 0.1, 0.17, 0.09,
    0.19, 0.08, 0.2, 0.27, 0.15, 0.1, 0.005, 0.005, 0.005])
RATIO_CVI_SEG_C = (8.804, 0.001, [
    0.005, 0.03, 0.18, 0.06, 0.09, 0.02, 0.3, 0.1, 1.96, 0.04, 0.2, 0.05, 0.4, 1.26, 0.03, 0.12, 0.06, 0.08, 0.02,
    0.05, 0.005, 0.04, 0.02, 0.03, 0.005, 0.025, 0.005, 0.02, 0.06, 0.145, 0.02, 0.13, 0.03, 0.05, 0.005, 0.06,
    0.02, 0.04, 0.005, 0.05, 0.116, 0.01, 0.06, 0.02, 0.04, 0.005, 0.055, 0.03, 0.07, 0.01, 0.1, 0.03, 0.06, 0.005,
    0.08, 0.168, 0.02, 0.09, 0.175, 0.02, 0.05, 0.005, 0.04, 0.02, 0.06, 0.005, 0.075, 0.03, 0.05, 0.01, 0.045,
    0.02, 0.035, 0.005, 0.04, 0.015, 0.045, 0.005, 0.03, 0.05, 0.01, 0.04, 0.02, 0.05, 0.005, 0.035, 0.055, 0.01,
    0.04, 0.02, 0.06, 0.005, 0.045, 0.03, 0.05, 0.01, 0.035, 0.02, 0.05, 0.005, 0.04, 0.06, 0.02, 0.08, 0.154,
    0.01, 0.05, 0.03, 0.06, 0.005, 0.035, 0.02, 0.03, 0.005, 0.04, 0.02, 0.06, 0.005, 0.045, 0.02, 0.05, 0.01,
    0.07, 0.04, 0.1, 0.02, 0.05, 0.005, 0.03, 0.01, 0.02, 0.005, 0.015, 0.005, 0.005])

# Panel c: ratio where CVI is low (black)
RATIO_ALL = [
    (8.2742, 0.005), (8.2748, 0.08), (8.2754, 0.005),
    (8.3350, 0.005), (8.3356, 0.017), (8.3362, 0.005),
    (8.4400, 0.005), (8.4404, 0.1), (8.4406, 0.925), (8.4409, 0.3), (8.4412, 0.27), (8.4416, 0.005),
    (8.5108, 0.005), (8.5112, 0.218), (8.5116, 0.2), (8.5120, 0.005), (8.5140, 0.005), (8.5142, 0.1), (8.5146, 0.005),
    (8.6785, 0.005), (8.6792, 2.5), (8.6796, 2.93), (8.6800, 2.7), (8.6805, 1.11), (8.6810, 2.0), (8.6815, 0.6),
    (8.6820, 0.4), (8.6825, 0.388), (8.6830, 0.515), (8.6834, 0.05), (8.6838, 0.005),
    (8.7355, 0.005), (8.7370, 0.8), (8.7380, 1.2), (8.7388, 1.27), (8.7400, 0.3), (8.7410, 0.005),
    (8.7780, 0.005), (8.7786, 2.8), (8.7789, 3.1), (8.7793, 0.005), (8.7798, 2.9), (8.7802, 0.005), (8.7807, 2.62),
    (8.7812, 0.005), (8.7818, 2.4), (8.7822, 0.005), (8.7827, 2.0), (8.7833, 1.66), (8.7840, 2.8), (8.7847, 3.89),
    (8.7855, 1.66), (8.7862, 3.0), (8.7869, 3.68), (8.7876, 2.3), (8.7884, 5.2), (8.7890, 3.0), (8.7898, 2.09),
    (8.7906, 4.0), (8.7916, 4.6), (8.7925, 2.5), (8.7935, 1.57), (8.7944, 3.5), (8.7953, 5.2), (8.7962, 3.0),
    (8.7971, 3.68), (8.7980, 2.2), (8.7989, 1.7), (8.7998, 3.0), (8.8007, 5.2), (8.8016, 4.0), (8.8025, 5.5),
    (8.8032, 3.0), (8.8036, 0.005),
]

HIGH_NO_C = [
    (8.3638, 0.127), (8.3729, 0.395), (8.3774, 0.525), (8.3845, 0.51), (8.3936, 0.587), (8.3952, 0.525),
    (8.4066, 1.0), (8.4098, 0.343), (8.4276, 1.05), (8.4406, 0.925), (8.4412, 0.273), (8.4471, 0.298),
    (8.4545, 0.395), (8.4616, 0.0239), (8.4697, 0.244), (8.4950, 0.793), (8.4908, 0.468), (8.4892, 0.324),
    (8.4963, 0.571), (8.4966, 0.127), (8.5112, 0.218), (8.5167, 0.406), (8.6204, 0.179), (8.6230, 0.191),
    (8.6253, 0.266), (8.6188, 0.093), (8.6204, 0.0544), (8.6275, 0.092), (8.3806, 0.104), (8.3823, 0.265),
    (8.3761, 0.265), (8.3742, 0.151), (8.3774, 0.0764), (8.4108, 0.43), (8.4195, 0.44), (8.4211, 0.281),
    (8.4292, 0.237), (8.4315, 0.44), (8.4438, 0.174), (8.4503, 0.164), (8.4584, 0.124), (8.4552, 0.289),
    (8.4568, 0.0856), (8.4519, 0.0986), (8.4487, 0.061), (8.4454, 0.0743), (8.4971, 0.79), (8.4916, 0.10),
    (8.4989, 0.13), (8.5189, 0.40), (8.6225, 0.18), (8.6280, 0.264), (8.6796, 2.93), (8.6800, 2.5),
    (8.6807, 1.11), (8.6836, 0.515), (8.6825, 0.388), (8.6830, 0.0497), (8.7855, 1.66), (8.8000, 2.65),
]

MEAN_HIGH_NO = 0.213
MEAN_LOW_NO = 0.0329
ERR_X = [8.971, 8.960]
ERR_CENTER = [MEAN_HIGH_NO, MEAN_LOW_NO]
ERR_LOW = [0.0242, 0.004]
ERR_HIGH = [0.40, 0.183]

X_TICKS = [8.0, 8.2, 8.4, 8.6, 8.8, 9.0]

# ------------------------------------------------------------------ helpers
def pairs_df(pairs):
    return pd.DataFrame(pairs, columns=["t", "v"])


def seg_df(seg):
    t0, dt, vals = seg
    return pd.DataFrame({"t": t0 + dt * np.arange(len(vals)), "v": vals})


def series_df(pair_list, segs):
    parts = [pairs_df(pair_list)] + [seg_df(s) for s in segs]
    return pd.concat(parts, ignore_index=True).sort_values("t", kind="stable")


# ------------------------------------------------------------------ style
sns.set_theme(style="ticks")
plt.rcParams["font.family"] = ["DejaVu Sans"]
plt.rcParams["axes.linewidth"] = 1.2
for k in ("text.color", "axes.labelcolor", "xtick.color", "ytick.color", "axes.edgecolor"):
    plt.rcParams[k] = "black"

YEL = "#ffde00"
CYAN = "#00e0f4"
RED = "#ff2a10"
TEAL = "#34e6a4"
LGREEN = "#84ee30"

W, H = 1169, 1361
fig = plt.figure(figsize=(W / 100, H / 100), dpi=100)
L, R = 95 / W, 1124 / W


def make_ax(top_px, bot_px):
    return fig.add_axes([L, 1 - bot_px / H, R - L, (bot_px - top_px) / H])


ax_a = make_ax(14, 381)
ax_b = make_ax(478, 846)
ax_c = make_ax(943, 1311)

for ax in (ax_a, ax_b, ax_c):
    ax.set_facecolor("white")
    ax.set_yscale("log")
    ax.set_xlim(8.0, 9.0)
    ax.xaxis.set_major_locator(FixedLocator(X_TICKS))
    ax.xaxis.set_minor_locator(MultipleLocator(0.05))
    ax.yaxis.set_minor_locator(LogLocator(base=10, subs=np.arange(2, 10)))
    ax.yaxis.set_minor_formatter(NullFormatter())
    ax.tick_params(axis="y", which="major", direction="in", length=13, width=1.1,
                   left=True, right=True, labelsize=12, pad=5, colors="black")
    ax.tick_params(axis="y", which="minor", direction="in", length=7, width=1.0, left=True, right=True,
                   colors="black")
    ax.tick_params(axis="x", which="major", direction="in", length=6, width=1.1, top=True, bottom=True,
                   labelsize=13, pad=8, colors="black")
    ax.tick_params(axis="x", which="minor", direction="in", length=4, width=1.0, top=True, bottom=True,
                   colors="black")
    for s in ax.spines.values():
        s.set_color("black")
        s.set_linewidth(1.2)

# ---- panel a
ax_a.set_ylim(1, 100)
df_nt = pairs_df(NT_MASP)
sns.lineplot(data=df_nt, x="t", y="v", ax=ax_a, color="black", lw=1.25,
             estimator=None, sort=False, errorbar=None, legend=False)
sns.scatterplot(data=pairs_df(HIGH_NO_A), x="t", y="v", ax=ax_a, marker="s", s=13,
                color=YEL, edgecolor=YEL, linewidth=1.1, legend=False, zorder=5)
ax_a.collections[-1].set_facecolor("none")
ax_a.yaxis.set_major_locator(FixedLocator([1, 10, 100]))
ax_a.yaxis.set_major_formatter(FuncFormatter(lambda v, p: f"{v:.0f}"))
ax_a.set_ylabel("Conc. (cm$^{-3}$)", fontsize=12.5)

# ---- panel b
ax_b.set_ylim(0.001, 0.1)
df_masp = series_df(IWC_MASP_PAIRS, [IWC_MASP_SEG_A, IWC_MASP_SEG_B, IWC_MASP_SEG_C])
sns.lineplot(data=df_masp, x="t", y="v", ax=ax_b, color=YEL, lw=1.0,
             estimator=None, sort=False, errorbar=None, legend=False)
sns.lineplot(data=pairs_df(IWC_CVI), x="t", y="v", ax=ax_b, color="black", lw=1.6,
             estimator=None, sort=False, errorbar=None, legend=False)
ax_b.yaxis.set_major_locator(FixedLocator([0.001, 0.01, 0.1]))
ax_b.yaxis.set_major_formatter(FuncFormatter(lambda v, p: f"{v:.3f}"))
ax_b.set_ylabel("IWC (g m$^{-3}$)", fontsize=12.5)

# ---- panel c
ax_c.set_ylim(0.01, 5.2)
sns.lineplot(data=pairs_df(RATIO_ALL), x="t", y="v", ax=ax_c, color="black", lw=1.2,
             estimator=None, sort=False, errorbar=None, legend=False)
df_ratio = series_df(RATIO_CVI_PAIRS, [RATIO_CVI_SEG_A, RATIO_CVI_SEG_B, RATIO_CVI_SEG_C])
sns.lineplot(data=df_ratio, x="t", y="v", ax=ax_c, color=CYAN, lw=1.3,
             estimator=None, sort=False, errorbar=None, legend=False)
sns.scatterplot(data=pairs_df(HIGH_NO_C), x="t", y="v", ax=ax_c, marker="s", s=10,
                color=YEL, edgecolor=YEL, linewidth=1.0, legend=False, zorder=5)
ax_c.collections[-1].set_facecolor("none")
ax_c.yaxis.set_major_locator(FixedLocator([0.01, 0.1, 1.0]))
ax_c.yaxis.set_major_formatter(FuncFormatter(lambda v, p: f"{v:.2f}"))
ax_c.xaxis.set_major_formatter(FuncFormatter(lambda v, p: f"{v:.1f}"))
ax_c.set_ylabel("IWC(MASP)/IWC(CVI)", fontsize=12.5)
ax_c.set_xlabel("Time (UTC s)/10$^4$", fontsize=13)
ax_c.xaxis.set_label_coords(0.503, -0.080)

for y in (MEAN_HIGH_NO, MEAN_LOW_NO):
    ax_c.axhline(y, color="black", lw=1.3, ls=(0, (1, 5)), zorder=4)
btc = mtransforms.blended_transform_factory(ax_c.transAxes, ax_c.transData)
ax_c.text(0.1487, MEAN_HIGH_NO, "Mean, High NO", transform=btc, fontsize=15.5, va="baseline", ha="left", zorder=6)
ax_c.text(0.1487, MEAN_LOW_NO, "Mean, Low NO", transform=btc, fontsize=15.5, va="baseline", ha="left", zorder=6)
for x, c, lo, hi in zip(ERR_X, ERR_CENTER, ERR_LOW, ERR_HIGH):
    ax_c.errorbar([x], [c], yerr=[[c - lo], [hi - c]], fmt="x", color="black", ms=12, mew=1.4,
                  elinewidth=1.2, capsize=5, capthick=1.2, zorder=7)

# ---- vertical region lines and labels
for ax, first_col in ((ax_a, TEAL), (ax_b, TEAL), (ax_c, LGREEN)):
    cols = [first_col, YEL, RED, RED]
    for t, col in zip(REGION_LINES, cols):
        if ax is ax_c and t == REGION_LINES[3]:
            ax.axvline(t, ymin=0.111, ymax=1, color=col, lw=1.4, zorder=4)
        else:
            ax.axvline(t, color=col, lw=1.4, zorder=4)
    bt = mtransforms.blended_transform_factory(ax.transData, ax.transAxes)
    for t, lab in zip(REGION_LABEL_T, REGION_LABELS):
        ax.text(t, 0.984, lab, transform=bt, ha="center", va="center", fontsize=21, zorder=8)

for ax in (ax_a, ax_b):
    ax.tick_params(axis="x", labelbottom=False)
    ax.set_xlabel("")
for ax in (ax_a, ax_b):
    ax.yaxis.set_label_coords(-0.0486, 0.5)
ax_c.yaxis.set_label_coords(-0.0554, 0.5)

# ---- annotations
ax_a.text(0.039, 0.883, "a: N$_\\mathregular{t}$  MASP", transform=ax_a.transAxes, fontsize=18, va="center", ha="left")
ax_b.text(0.0486, 0.851, "b: IWC", transform=ax_b.transAxes, fontsize=22, va="center", ha="left")
ax_c.text(0.0486, 0.851, "c: IWC(MASP)/IWC(CVI)", transform=ax_c.transAxes, fontsize=23.5, va="center", ha="left")
ax_b.text(0.685, 0.970, "30.6*IWC  MASP", transform=ax_b.transAxes, fontsize=15, color=YEL, va="center", ha="left")

# legend box in panel a
box = plt.Rectangle(((921 - 95) / 1029, (381 - 77) / 367), (1107 - 921) / 1029, 37 / 367,
                    transform=ax_a.transAxes, fill=True, facecolor="white", edgecolor="black", lw=1.3, zorder=9)
ax_a.add_patch(box)
ax_a.text((957 - 95) / 1029, (381 - 58) / 367, "High  NO", transform=ax_a.transAxes, fontsize=17,
          va="center", ha="left", zorder=10)
ax_a.plot([(1083 - 95) / 1029], [(381 - 58) / 367], transform=ax_a.transAxes, marker="s", ms=5,
          mfc="none", mec=YEL, mew=1.3, ls="none", zorder=10)

ax_c.text((957 - 95) / 1029, (1311 - 987) / 368, "High  NO", transform=ax_c.transAxes, fontsize=17,
          va="center", ha="left", zorder=10)
ax_c.plot([(1083 - 95) / 1029], [(1311 - 987) / 368], transform=ax_c.transAxes, marker="s", ms=5,
          mfc="none", mec=YEL, mew=1.3, ls="none", zorder=10)
ax_c.text((968 - 95) / 1029, (1311 - 1032) / 368, "CVI>0.001 g/m$^3$)", transform=ax_c.transAxes, fontsize=16.5,
          color=CYAN, va="center", ha="left", zorder=10, clip_on=False)

fig.savefig("out.png", dpi=100, facecolor="white")
